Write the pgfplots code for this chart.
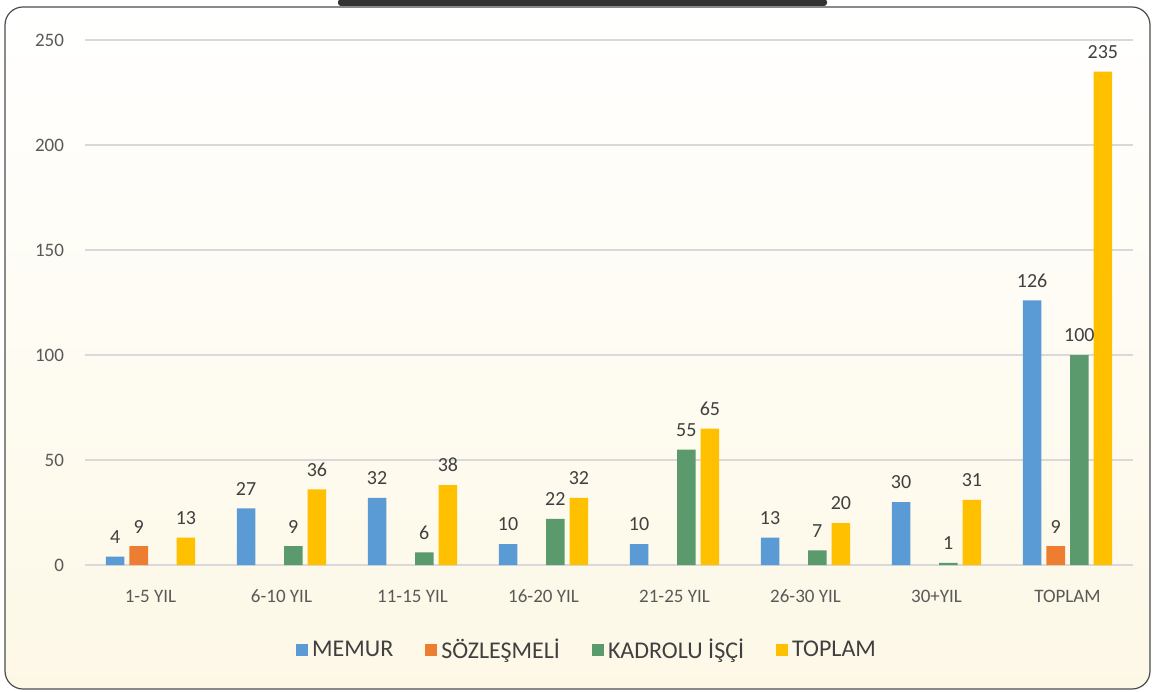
\documentclass[border=0pt]{standalone}
\usepackage{fontspec}
\setmainfont{Carlito}
\usepackage{pgfplots}
\pgfplotsset{compat=1.18}
\definecolor{cMem}{HTML}{5B9BD5}
\definecolor{cSoz}{HTML}{ED7D31}
\definecolor{cKad}{HTML}{5A9A6C}
\definecolor{cTop}{HTML}{FFC000}
\definecolor{cream}{HTML}{FDF8E6}
\definecolor{tgray}{HTML}{595959}
\definecolor{lgray}{HTML}{404040}
\begin{document}
\begin{tikzpicture}
\shade[top color=white, bottom color=cream, rounded corners=9pt] (2.5pt,1pt) rectangle (575pt,342pt);
\draw[rounded corners=9pt, line width=0.6pt, draw=black!70] (2.5pt,1pt) rectangle (575pt,342pt);
\fill[black!80, rounded corners=1.5pt] (169pt,346pt) rectangle (413.5pt,342.5pt);
\begin{axis}[
  at={(42.5pt,63pt)}, anchor=south west, scale only axis,
  width=524pt, height=262.5pt,
  ybar=2.5pt, bar width=9.3pt,
  xmin=-0.5, xmax=7.5, ymin=0, ymax=250,
  ytick={0,50,...,250},
  xtick={0,...,7},
  xticklabels={1-5 YIL,6-10 YIL,11-15 YIL,16-20 YIL,21-25 YIL,26-30 YIL,30+YIL,TOPLAM},
  axis line style={draw=none},
  major tick length=0pt,
  ymajorgrids, grid style={draw=black!15, line width=1pt},
  /pgf/number format/assume math mode=true,
  tick label style={font=\fontsize{9.5}{11}\selectfont, color=tgray},
  yticklabel style={xshift=-7pt},
  xticklabel style={yshift=-9pt},
  nodes near coords,
  every node near coord/.append style={font=\fontsize{10}{12}\selectfont, color=lgray, yshift=3pt},
  legend style={at={(0.48,-0.162)}, anchor=center, legend columns=4, draw=none, fill=none,
    font=\fontsize{12}{14}\selectfont, text=lgray,
    /tikz/every even column/.append style={column sep=14pt}},
  legend image code/.code={\fill[#1] (0pt,-3pt) rectangle (6pt,3pt);},
]
\addplot[fill=cMem, draw=none] coordinates {(0,4)(1,27)(2,32)(3,10)(4,10)(5,13)(6,30)(7,126)};
\addplot[fill=cSoz, draw=none] coordinates {(0,9)(7,9)};
\addplot[fill=cKad, draw=none] coordinates {(1,9)(2,6)(3,22)(4,55)(5,7)(6,1)(7,100)};
\addplot[fill=cTop, draw=none] coordinates {(0,13)(1,36)(2,38)(3,32)(4,65)(5,20)(6,31)(7,235)};
\legend{MEMUR,SÖZLEŞMELİ,KADROLU İŞÇİ,TOPLAM}
\end{axis}
\pgfresetboundingbox
\useasboundingbox (0,0) rectangle (577pt,345.5pt);
\end{tikzpicture}
\end{document}
